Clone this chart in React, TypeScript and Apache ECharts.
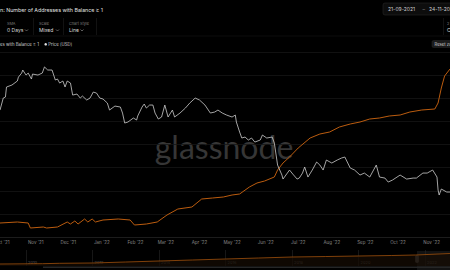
import React, { useEffect, useRef } from "react";
import * as echarts from "echarts";

// BTC price (USD), white line
const priceDates = [
  "2021-09-29", "2021-10-02", "2021-10-04", "2021-10-05", "2021-10-10", "2021-10-15", "2021-10-16", "2021-10-19", "2021-10-20", "2021-10-23",
  "2021-10-25", "2021-10-28", "2021-10-29", "2021-11-03", "2021-11-07", "2021-11-09", "2021-11-12", "2021-11-16", "2021-11-19", "2021-11-21",
  "2021-11-23", "2021-11-26", "2021-11-28", "2021-11-30", "2021-12-03", "2021-12-05", "2021-12-09", "2021-12-12", "2021-12-14", "2021-12-18",
  "2021-12-21", "2021-12-24", "2021-12-27", "2021-12-30", "2022-01-02", "2022-01-06", "2022-01-08", "2022-01-13", "2022-01-18", "2022-01-20",
  "2022-01-22", "2022-01-25", "2022-01-30", "2022-02-02", "2022-02-03", "2022-02-07", "2022-02-09", "2022-02-11", "2022-02-14", "2022-02-17",
  "2022-02-19", "2022-02-22", "2022-02-25", "2022-02-28", "2022-03-03", "2022-03-07", "2022-03-09", "2022-03-14", "2022-03-19", "2022-03-23",
  "2022-03-28", "2022-04-01", "2022-04-06", "2022-04-11", "2022-04-15", "2022-04-18", "2022-04-22", "2022-04-26", "2022-05-01", "2022-05-04",
  "2022-05-05", "2022-05-08", "2022-05-10", "2022-05-13", "2022-05-16", "2022-05-19", "2022-05-22", "2022-05-27", "2022-05-29", "2022-06-02",
  "2022-06-07", "2022-06-09", "2022-06-12", "2022-06-16", "2022-06-17", "2022-06-21", "2022-06-23", "2022-06-26", "2022-06-30", "2022-07-02",
  "2022-07-05", "2022-07-07", "2022-07-10", "2022-07-14", "2022-07-18", "2022-07-21", "2022-07-24", "2022-07-27", "2022-08-01", "2022-08-06",
  "2022-08-10", "2022-08-13", "2022-08-18", "2022-08-22", "2022-08-27", "2022-08-31", "2022-09-05", "2022-09-10", "2022-09-11", "2022-09-14",
  "2022-09-19", "2022-09-22", "2022-09-26", "2022-10-03", "2022-10-09", "2022-10-15", "2022-10-18", "2022-10-24", "2022-10-28", "2022-11-02",
  "2022-11-06", "2022-11-07", "2022-11-08", "2022-11-10", "2022-11-15", "2022-11-18", "2022-11-24",
];
const priceValues = [
  41050, 47050, 47600, 53330, 54550, 57100, 59700, 62500, 64700, 61100,
  62500, 58400, 61800, 61100, 62500, 67000, 64700, 64700, 57750, 58400,
  55800, 57100, 53330, 57100, 55800, 48680, 49250, 47050, 48140, 46000,
  47050, 50370, 49800, 47050, 46530, 44450, 41050, 42960, 42480, 39680,
  35420, 35830, 37490, 36650, 38350, 42480, 43950, 42000, 43460, 43460,
  39680, 37070, 37920, 43460, 37920, 41050, 37920, 39680, 42000, 44450,
  47050, 46000, 43460, 39680, 40130, 41050, 39680, 38780, 37920, 38780,
  35830, 31980, 29870, 30210, 29200, 29870, 28530, 29200, 30900, 29870,
  30210, 28210, 21970, 19610, 18740, 20060, 20760, 19840, 18740, 18950,
  20060, 21480, 19170, 20760, 22740, 21970, 20760, 23260, 22480, 23260,
  23800, 24070, 21240, 20760, 19610, 20060, 19170, 21480, 21970, 19170,
  18950, 18110, 18530, 19610, 18740, 18950, 18950, 20060, 20060, 20760,
  19170, 16540, 15630, 16730, 16170, 16170, 16400,
];

// Number of addresses with balance >= 1, orange line
const addrDates = [
  "2021-09-29", "2021-10-15", "2021-10-25", "2021-10-27", "2021-11-08", "2021-11-11", "2021-11-21", "2021-11-30", "2021-12-03", "2021-12-07",
  "2021-12-10", "2021-12-16", "2021-12-19", "2021-12-23", "2021-12-26", "2022-01-02", "2022-01-16", "2022-01-27", "2022-01-31", "2022-02-11",
  "2022-02-21", "2022-03-02", "2022-03-12", "2022-03-25", "2022-04-03", "2022-04-13", "2022-04-23", "2022-05-01", "2022-05-08", "2022-05-17",
  "2022-05-24", "2022-05-31", "2022-06-09", "2022-06-12", "2022-06-17", "2022-06-23", "2022-07-01", "2022-07-12", "2022-07-21", "2022-07-30",
  "2022-08-08", "2022-08-18", "2022-08-27", "2022-09-05", "2022-09-14", "2022-09-23", "2022-10-03", "2022-10-12", "2022-10-23", "2022-11-04",
  "2022-11-07", "2022-11-10", "2022-11-13", "2022-11-18", "2022-11-24",
];
const addrValues = [
  814000, 815000, 814000, 809000, 810000, 809000, 810000, 815000, 813000, 816000,
  813000, 818000, 815000, 818000, 815000, 817000, 818000, 817000, 812000, 813000,
  815000, 822000, 828000, 830000, 838000, 839000, 840000, 842000, 843000, 850000,
  854000, 856000, 860000, 867000, 874000, 880000, 889000, 899000, 903000, 905000,
  910000, 913000, 915000, 918000, 919000, 921000, 922000, 925000, 927000, 928000,
  934000, 949000, 961000, 968000, 972000,
];

// Long-history navigator (decimal years)
const navYears = [2009.2, 2010.5, 2011, 2012, 2013, 2014, 2015, 2016, 2017, 2018, 2019, 2020, 2021, 2021.72, 2022.75, 2022.9];
const navValues = [148000, 170000, 200000, 222000, 296000, 370000, 444000, 518000, 592000, 666000, 700000, 740000, 777000, 814000, 925000, 972000];

const WHITE = "#cdcdcd";
const ORANGE = "#bb5c0f";
const DAY = 86400000;
const FONT = "Inter, 'Noto Sans', sans-serif";

function txt(text: string, x: number, y: number, size: number, fill: string, extra: any = {}) {
  return {
    type: "text",
    x,
    y,
    style: { text, fontSize: size, fill, fontFamily: FONT, verticalAlign: "middle", align: "left", ...extra },
  };
}
function chevron(x: number, y: number) {
  return {
    type: "polyline",
    shape: { points: [[x, y - 0.8], [x + 1.5, y + 0.7], [x + 3, y - 0.8]] },
    style: { stroke: "#9a9a9a", lineWidth: 0.6, fill: null },
  };
}
function vline(x: number, y1: number, y2: number, color = "#1e1e1e") {
  return { type: "line", shape: { x1: x, y1, x2: x, y2 }, style: { stroke: color, lineWidth: 0.6 } };
}

export default function App() {
  const ref = useRef<HTMLDivElement>(null);
  useEffect(() => {
    document.body.style.margin = "0";
    document.body.style.background = "#000";
    const chart = echarts.init(ref.current!, undefined, { renderer: "svg" });
    const option: any = {
      animation: false,
      backgroundColor: "#000",
      textStyle: { fontFamily: FONT },
      grid: [
        { left: 0, right: 0, top: 52, bottom: 33, outerBoundsMode: "none" },
        { left: -40.5, right: -41.5, top: 250, height: 16, outerBoundsMode: "none" },
      ],
      xAxis: [
        {
          type: "time",
          gridIndex: 0,
          min: "2021-09-29",
          max: "2022-11-18",
          splitNumber: 14,
          minInterval: 28 * DAY,
          maxInterval: 31 * DAY,
          axisLine: { show: true, lineStyle: { color: "#1f1f1f", width: 0.8 } },
          axisTick: { show: false },
          splitLine: { show: false },
          axisLabel: { formatter: "{MMM} '{yy}", color: "#868686", fontSize: 4.5, margin: 3, fontFamily: FONT },
        },
        {
          type: "value",
          gridIndex: 1,
          min: 2008,
          max: 2024,
          interval: 2,
          axisLine: { show: false },
          axisTick: { show: false },
          splitLine: { show: true, lineStyle: { color: "#262626", width: 0.6 } },
          axisLabel: {
            inside: true,
            margin: 2,
            align: "left",
            padding: [0, 0, 0, 2],
            color: "#555",
            fontSize: 4,
            fontFamily: FONT,
            formatter: (v: number) => String(v),
          },
        },
      ],
      yAxis: [
        {
          type: "value",
          gridIndex: 0,
          min: 0,
          max: 8,
          interval: 1,
          axisLine: { show: false },
          axisTick: { show: false },
          axisLabel: { show: false },
          splitLine: { show: true, lineStyle: { color: "#151515", width: 0.8 } },
        },
        { type: "log", gridIndex: 0, min: 9700, max: 79400, show: false, splitLine: { show: false } },
        { type: "value", gridIndex: 0, min: 800000, max: 985000, show: false, splitLine: { show: false } },
        { type: "value", gridIndex: 1, min: 0, max: 1184000, show: false, splitLine: { show: false } },
      ],
      series: [
        {
          name: "Number of Addresses with Balance ≥ 1",
          type: "line",
          xAxisIndex: 0,
          yAxisIndex: 2,
          showSymbol: false,
          data: addrDates.map((d, i) => [d, addrValues[i]]),
          lineStyle: { color: ORANGE, width: 1 },
          z: 3,
        },
        {
          name: "Price [USD]",
          type: "line",
          xAxisIndex: 0,
          yAxisIndex: 1,
          showSymbol: false,
          data: priceDates.map((d, i) => [d, priceValues[i]]),
          lineStyle: { color: WHITE, width: 0.8 },
          z: 4,
        },
        {
          type: "line",
          xAxisIndex: 1,
          yAxisIndex: 3,
          showSymbol: false,
          data: navYears.map((y, i) => [y, navValues[i]]),
          lineStyle: { color: "#a0500c", width: 0.8 },
          areaStyle: { color: "#160c03" },
        },
      ],
      graphic: [
        // watermark
        {
          type: "text",
          x: 224,
          y: 146,
          z: -5,
          style: {
            text: "glassnode",
            fontSize: 32,
            fill: "#363636",
            fontFamily: "Lato, 'Noto Sans', sans-serif",
            align: "center",
            verticalAlign: "middle",
          },
        },
        // title
        txt("n: Number of Addresses with Balance ≥ 1", 0, 9.5, 5.3, "#e2e2e2"),
        // date range box
        {
          type: "rect",
          shape: { x: 383, y: 3, width: 80, height: 12, r: 2 },
          style: { fill: "#0d0d0d", stroke: "#262626", lineWidth: 0.6 },
        },
        txt("21-09-2021", 388, 9, 5, "#cfcfcf"),
        txt("–", 422.5, 9, 5, "#9a9a9a"),
        txt("24-11-2022", 429, 9, 5, "#cfcfcf"),
        // control row
        vline(33.5, 18, 35),
        vline(63.5, 18, 35),
        vline(96.5, 18, 35),
        vline(443.5, 18, 35),
        txt("SMA", 7, 23.5, 3.8, "#7d7d7d"),
        txt("0 Days", 7, 30, 5, "#dcdcdc"),
        chevron(25, 30.3),
        txt("Scale", 39, 23.5, 3.8, "#7d7d7d"),
        txt("Mixed", 39, 30, 5, "#dcdcdc"),
        chevron(56, 30.3),
        txt("Chart Style", 69, 23.5, 3.8, "#7d7d7d"),
        txt("Line", 69, 30, 5, "#dcdcdc"),
        chevron(80.5, 30.3),
        txt("2", 447, 23.5, 3.8, "#7d7d7d"),
        txt("C", 447, 30, 5, "#dcdcdc"),
        {
          type: "line",
          shape: { x1: 0, y1: 36, x2: 450, y2: 36 },
          style: { stroke: "#141414", lineWidth: 0.6 },
        },
        // legend
        txt("es with Balance ≥ 1", 0, 44.3, 4.3, "#cfcfcf"),
        { type: "circle", shape: { cx: 45.7, cy: 44.3, r: 1.3 }, style: { fill: "#e0e0e0" } },
        txt("Price [USD]", 48.3, 44.3, 4.3, "#cfcfcf"),
        // reset zoom
        {
          type: "rect",
          shape: { x: 432, y: 40.5, width: 30, height: 7, r: 1.5 },
          style: { fill: "#1b1b1b", stroke: "#2a2a2a", lineWidth: 0.5 },
        },
        txt("Reset zoom", 434.5, 44.2, 4.2, "#cfcfcf"),
        // navigator selection window
        {
          type: "rect",
          shape: { x: 417, y: 251, width: 40, height: 19 },
          style: { fill: "rgba(255,255,255,0.07)" },
        },
        {
          type: "rect",
          shape: { x: 415.5, y: 255.5, width: 3, height: 7, r: 0.8 },
          style: { fill: "#4a4a4a", stroke: "#666", lineWidth: 0.4 },
        },
        {
          type: "rect",
          shape: { x: 43, y: 266.5, width: 407, height: 1.6 },
          style: { fill: "#262626" },
        },
      ],
    };
    chart.setOption(option);
    return () => chart.dispose();
  }, []);
  return <div ref={ref} style={{ position: "fixed", left: 0, top: 0, width: 450, height: 270 }} />;
}
